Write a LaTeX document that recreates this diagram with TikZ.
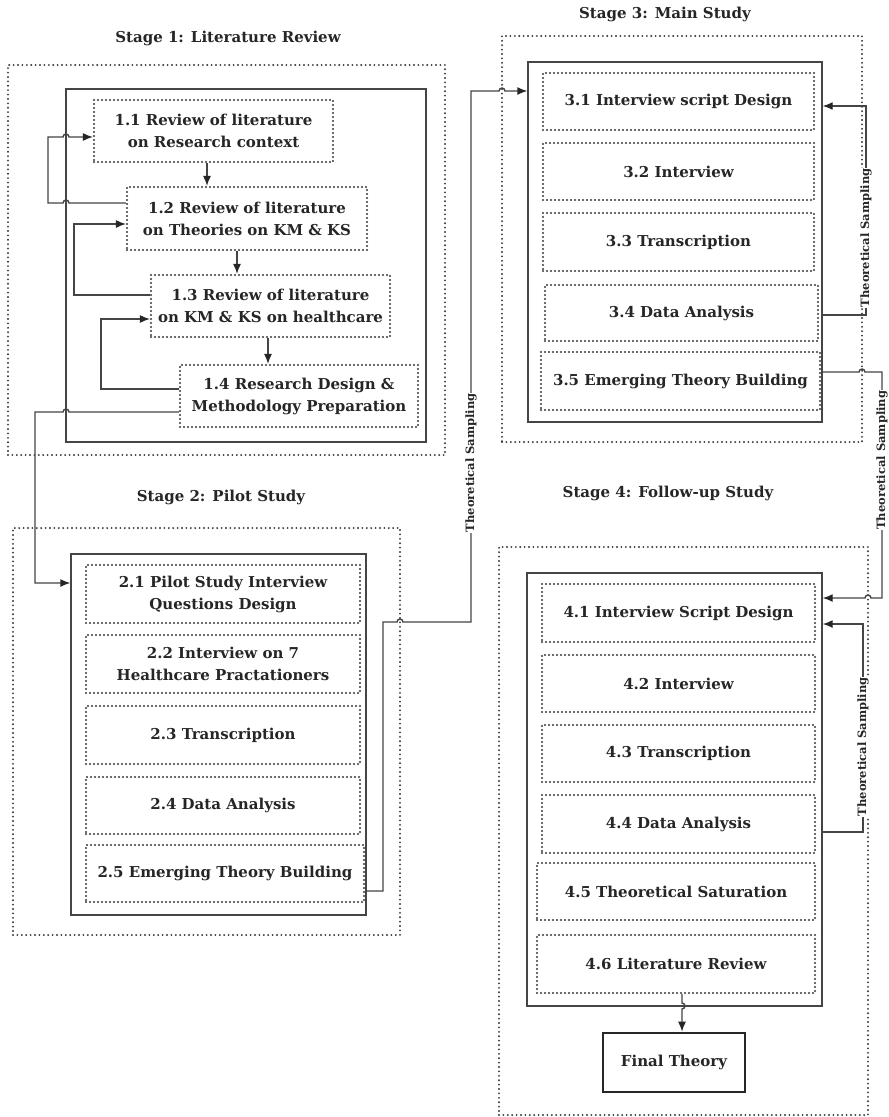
\documentclass[tikz,border=0pt]{standalone}
\usepackage{fontspec}
\setmainfont{DejaVu Serif}
\usetikzlibrary{arrows.meta,calc}
\definecolor{lc}{HTML}{454545}
\definecolor{dc}{HTML}{3A3A3A}
\definecolor{tc}{HTML}{262626}
\newfontfamily\myboxfam{DejaVu Serif}
\newcommand\myboxfont{\myboxfam\bfseries\fontsize{15}{22}\selectfont}
\newcommand\mylabfont{\myboxfam\bfseries\fontsize{11.5}{12}\selectfont}
\begin{document}
\begin{tikzpicture}[x=1pt,y=-1pt,
  stagebox/.style={draw=dc, line width=2.1pt, dash pattern=on 0pt off 4.4pt, line cap=round, inner sep=0pt},
  inbox/.style={draw=lc, line width=1.4pt, inner sep=0pt},
  stepbox/.style={draw=dc, line width=2.1pt, dash pattern=on 0pt off 4pt, line cap=round, inner sep=0pt, align=center, font=\myboxfont, text=tc},
  finalbox/.style={draw=black!85, line width=2.6pt, inner sep=0pt, font=\myboxfont, text=tc},
  conn/.style={draw=lc, line width=1.4pt},
  arr/.style={conn, -{Latex[length=10pt,width=8pt,color=black!85]}},
  lab/.style={font=\mylabfont, text=tc, rotate=90, fill=white, inner sep=0.5pt},
  stagetitle/.style={font=\myboxfont, text=tc}]
\useasboundingbox (0,0) rectangle (889,1117);
\fill[white] (0,0) rectangle (889,1117);

% titles
\node[stagetitle] (t1) at (228,38) {Stage 1: Literature Review};
\node[stagetitle] (t2) at (221,497) {Stage 2: Pilot Study};
\node[stagetitle] (t3) at (665,14) {Stage 3: Main Study};
\node[stagetitle] (t4) at (668,493) {Stage 4: Follow-up Study};

% stage frames
\node[stagebox, minimum width=437pt, minimum height=390pt] (s1) at (226.5,260) {};
\node[inbox, minimum width=360pt, minimum height=353pt] (inner1) at (246,265.5) {};
\node[stagebox, minimum width=387pt, minimum height=407pt] (s2) at (206.5,731.5) {};
\node[inbox, minimum width=295pt, minimum height=361pt] (inner2) at (218.5,734.5) {};
\node[stagebox, minimum width=360pt, minimum height=406pt] (s3) at (682,239) {};
\node[inbox, minimum width=294pt, minimum height=360pt] (inner3) at (675,242) {};
\node[stagebox, minimum width=369pt, minimum height=568pt] (s4) at (683.5,831) {};
\node[inbox, minimum width=295pt, minimum height=433pt] (inner4) at (674.5,789.5) {};

% stage 1 steps
\node[stepbox, minimum width=239pt, minimum height=62pt] (n11) at (213.5,131) {1.1 Review of literature\\on Research context};
\node[stepbox, minimum width=240pt, minimum height=63pt] (n12) at (247,218.5) {1.2 Review of literature\\on Theories on KM \& KS};
\node[stepbox, minimum width=239pt, minimum height=62pt] (n13) at (270.5,306) {1.3 Review of literature\\on KM \& KS on healthcare};
\node[stepbox, minimum width=238pt, minimum height=62pt] (n14) at (299,396) {1.4 Research Design \&\\Methodology Preparation};

% stage 2 steps
\node[stepbox, minimum width=274pt, minimum height=58pt] (n21) at (223,594) {2.1 Pilot Study Interview\\Questions Design};
\node[stepbox, minimum width=274pt, minimum height=58pt] (n22) at (223,664) {2.2 Interview on 7\\Healthcare Practationers};
\node[stepbox, minimum width=274pt, minimum height=58pt] (n23) at (223,735) {2.3 Transcription};
\node[stepbox, minimum width=274pt, minimum height=57pt] (n24) at (223,805.5) {2.4 Data Analysis};
\node[stepbox, minimum width=278pt, minimum height=57pt] (n25) at (225,873.5) {2.5 Emerging Theory Building};

% stage 3 steps
\node[stepbox, minimum width=271pt, minimum height=57pt] (n31) at (678.5,101.5) {3.1 Interview script Design};
\node[stepbox, minimum width=271pt, minimum height=57pt] (n32) at (678.5,171.5) {3.2 Interview};
\node[stepbox, minimum width=271pt, minimum height=58pt] (n33) at (678.5,242) {3.3 Transcription};
\node[stepbox, minimum width=273pt, minimum height=56pt] (n34) at (681.5,313) {3.4 Data Analysis};
\node[stepbox, minimum width=279pt, minimum height=58pt] (n35) at (680.5,381) {3.5 Emerging Theory Building};

% stage 4 steps
\node[stepbox, minimum width=273pt, minimum height=58pt] (n41) at (678.5,613) {4.1 Interview Script Design};
\node[stepbox, minimum width=273pt, minimum height=57pt] (n42) at (678.5,683.5) {4.2 Interview};
\node[stepbox, minimum width=273pt, minimum height=57pt] (n43) at (678.5,753.5) {4.3 Transcription};
\node[stepbox, minimum width=273pt, minimum height=58pt] (n44) at (678.5,824) {4.4 Data Analysis};
\node[stepbox, minimum width=278pt, minimum height=57pt] (n45) at (676,891.5) {4.5 Theoretical Saturation};
\node[stepbox, minimum width=278pt, minimum height=58pt] (n46) at (676,964) {4.6 Literature Review};
\node[finalbox, minimum width=142pt, minimum height=59pt] (final) at (674,1062.5) {Final Theory};

% stage 1 flow
\draw[arr] ([xshift=-6.5pt]n11.south) -- ([xshift=-6.5pt]n11.south |- n12.north);
\draw[arr] ([xshift=-10pt]n12.south) -- ([xshift=-10pt]n12.south |- n13.north);
\draw[arr] ([xshift=-2.5pt]n13.south) -- ([xshift=-2.5pt]n13.south |- n14.north);

% stage 1 feedback loops
\draw[arr] ([yshift=15.5pt]n12.west) -- (69,203) arc[start angle=0,end angle=180,radius=3pt] -- (48,203) -- (48,137) -- (63,137) arc[start angle=180,end angle=0,radius=3pt] -- ([yshift=-6pt]n11.west);
\draw[arr] ([yshift=11pt]n13.west) -- (74,295) -- (74,224) -- ([yshift=-5.5pt]n12.west);
\draw[arr] ([yshift=7pt]n14.west) -- (101,389) -- (101,319) -- ([yshift=-13pt]n13.west);

% stage 1 -> stage 2
\draw[arr] ([yshift=-16pt]n14.west) -- (69,412) arc[start angle=0,end angle=180,radius=3pt] -- (35,412) -- (35,583) -- ([yshift=151.5pt]inner2.west);

% stage 2 -> stage 3
\draw[arr] ([yshift=-17.5pt]n25.east) -- (383,891) -- (383,622) -- (397,622) arc[start angle=180,end angle=0,radius=3pt] -- (471,622) -- node[lab,pos=0.3]{Theoretical Sampling} (471,91) -- (499,91) arc[start angle=180,end angle=0,radius=3pt] -- ([yshift=151pt]inner3.west);

% stage 3 loop
\draw[arr] ([yshift=-73pt]inner3.east) -- (866,315) -- node[lab,pos=0.37]{Theoretical Sampling} (866,106) -- ([yshift=136pt]inner3.east);

% stage 3 -> stage 4
\draw[arr] ([yshift=-130pt]inner3.east) -- (859,372) arc[start angle=180,end angle=0,radius=3pt] -- (882,372) -- node[lab,pos=0.39]{Theoretical Sampling} (882,598) -- (871,598) arc[start angle=0,end angle=180,radius=3pt] -- ([yshift=191.5pt]inner4.east);

% stage 4 loop
\draw[arr] ([yshift=-42.5pt]inner4.east) -- (863,832) -- node[lab,pos=0.41]{Theoretical Sampling} (863,624) -- ([yshift=165.5pt]inner4.east);

% to final theory
\draw[arr] ([xshift=6pt]n46.south) -- (682,1003) arc[start angle=90,end angle=-90,radius=3pt] -- ([xshift=8pt]final.north);
\end{tikzpicture}
\end{document}
